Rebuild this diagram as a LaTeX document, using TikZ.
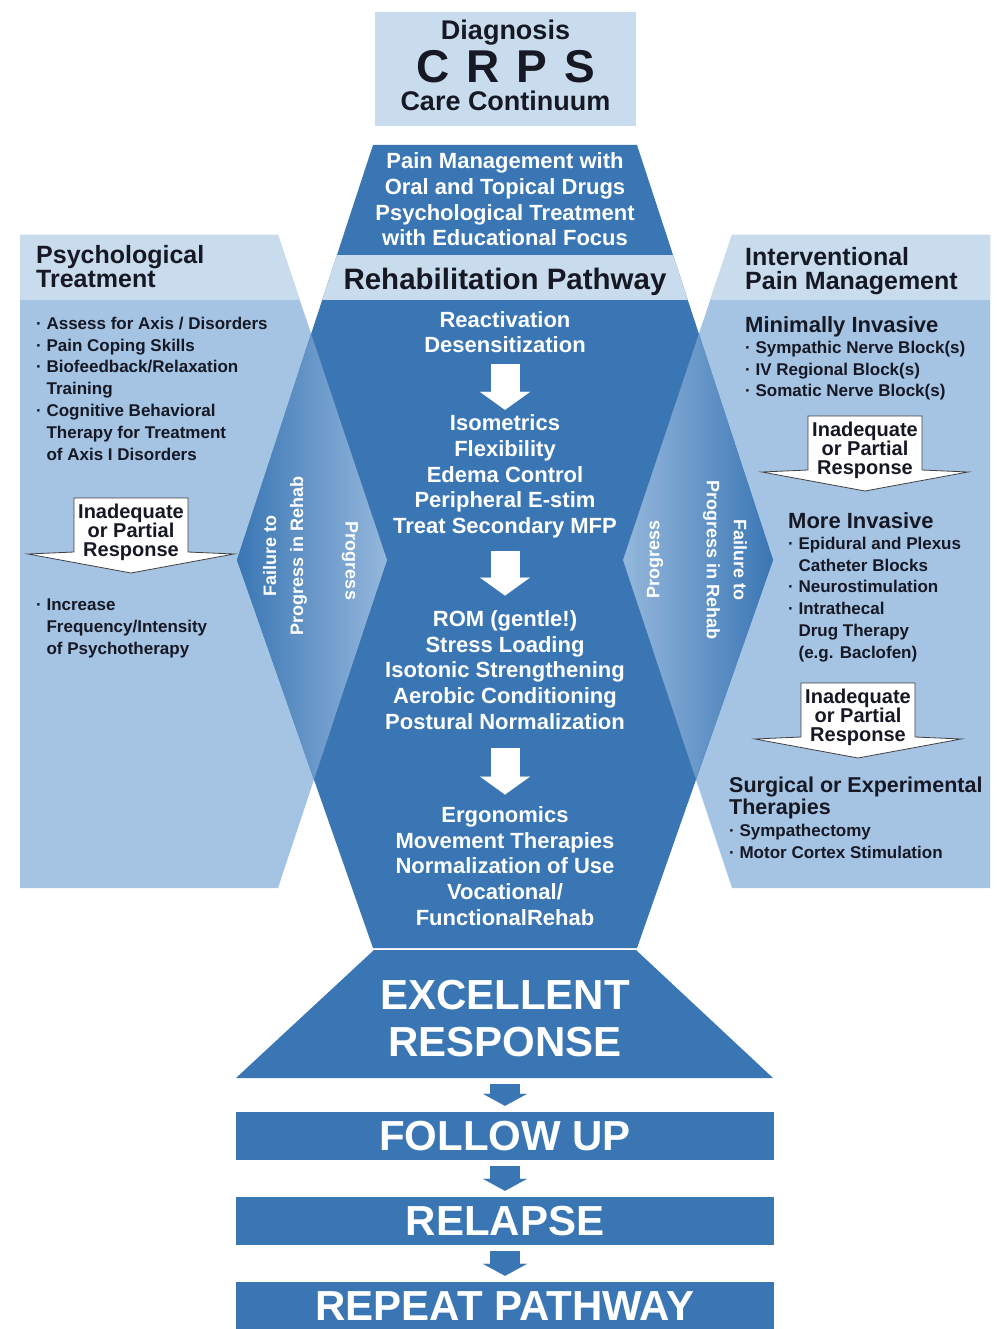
\documentclass[tikz,border=0pt]{standalone}
\usepackage{fontspec}
\setmainfont{Liberation Sans}
\usepackage{tikz}
\usetikzlibrary{arrows.meta, calc, positioning}

\definecolor{pathway}{RGB}{58,118,180}
\definecolor{panel}{RGB}{165,195,227}
\definecolor{band}{RGB}{201,220,238}
\definecolor{ink}{RGB}{22,24,36}

\newcommand{\fsize}[2]{\fontsize{#1}{#2}\selectfont}
\newcommand{\ind}{\phantom{·\ }}

\begin{document}
\begin{tikzpicture}[x=1pt, y=-1pt,
	every node/.style={inner sep=0pt, font=\bfseries},
	on dark/.style={text=white, align=center},
	on light/.style={text=ink, align=left, anchor=north west},
	heading/.style={on light, font=\bfseries\fsize{25}{24}},
	subheading/.style={on light, font=\bfseries\fsize{22}{22}},
	bullets/.style={on light, font=\bfseries\fsize{17}{21.8}},
	column/.style={on dark, font=\bfseries\fsize{22}{25.6}},
	side label/.style={on dark, font=\bfseries\fsize{18}{27}},
	white arrow/.style={white, line width=29pt, -{Triangle[width=50pt, length=18pt, line width=0.1pt]}},
	stage arrow/.style={pathway, line width=30pt, -{Triangle[width=44pt, length=12pt, line width=0.1pt]}, shorten <=6pt, shorten >=6pt},
	stage box/.style={fill=pathway, text=white, minimum width=538pt, minimum height=48pt, font=\bfseries\fsize{42}{47}},
	resp arrow/.style={fill=white, draw=black!75, line width=0.8pt},
	resp text/.style={text=ink, align=center, font=\bfseries\fsize{20}{18.5}}
]
	\def\cx{505};

	\useasboundingbox (0,0) rectangle (999,1329);
	\fill[white] (0,0) rectangle (999,1329);

	\coordinate (hex top left) at (373,145);
	\coordinate (hex top right) at (637,145);
	\coordinate (hex right) at (773,560);
	\coordinate (hex bottom right) at (637,948);
	\coordinate (hex bottom left) at (373,948);
	\coordinate (hex left) at (237,560);

	%side panels
	\fill[panel] (20,235) -- (278,235) -- (387,560) -- (278,888) -- (20,888) -- cycle;
	\fill[panel] (990,235) -- (732,235) -- (623,560) -- (732,888) -- (990,888) -- cycle;
	\fill[band] (20,235) -- (278,235) -- (299.8,300) -- (20,300) -- cycle;
	\fill[band] (990,235) -- (732,235) -- (710.2,300) -- (990,300) -- cycle;

	%rehab column
	\fill[pathway] (hex top left) -- (hex top right) -- (hex right) -- (hex bottom right) -- (hex bottom left) -- (hex left) -- cycle;
	\begin{scope}
		\clip (hex top left) -- (hex top right) -- (hex right) -- (hex bottom right) -- (hex bottom left) -- (hex left) -- cycle;
		\fill[band] (200,255) rectangle (800,300);
		\begin{scope}
			\clip (20,235) -- (278,235) -- (387,560) -- (278,888) -- (20,888) -- cycle;
			\shade[left color=pathway, right color=panel!85!pathway] (237,330) rectangle (387,785);
		\end{scope}
		\begin{scope}
			\clip (990,235) -- (732,235) -- (623,560) -- (732,888) -- (990,888) -- cycle;
			\shade[left color=panel!85!pathway, right color=pathway] (623,330) rectangle (773,785);
		\end{scope}
	\end{scope}

	%title
	\node[fill=band, minimum width=261pt, minimum height=114pt] (diagnosis box) at (505.5,69) {};
	\node[text=ink, align=center, font=\bfseries\fsize{27}{36}, anchor=north] (diagnosis) at (505.5,19.7) {Diagnosis\\[4.5pt]{\fsize{46}{36}C\hspace{17pt}R\hspace{17pt}P\hspace{17pt}S}\\[-8pt]Care Continuum};

	\node[column] (pain management) at (\cx,199.5) {Pain Management with\\Oral and Topical Drugs\\Psychological Treatment\\with Educational Focus};
	\node[text=ink, font=\bfseries\fsize{29.5}{30}, anchor=base] (rehab pathway) at (\cx,289.6) {Rehabilitation Pathway};

	\node[column] (reactivation) at (\cx,332) {Reactivation\\Desensitization};
	\node[column] (isometrics) at (\cx,476.5) {Isometrics\\Flexibility\\Edema Control\\Peripheral E-stim\\Treat Secondary MFP};
	\node[column] (rom) at (\cx,670) {ROM (gentle!)\\Stress Loading\\Isotonic Strengthening\\Aerobic Conditioning\\Postural Normalization};
	\node[column] (ergonomics) at (\cx,866) {Ergonomics\\Movement Therapies\\Normalization of Use\\Vocational/\\FunctionalRehab};

	\draw[white arrow, shorten <=11pt, shorten >=5pt] (reactivation) -- (isometrics);
	\draw[white arrow, shorten <=12.5pt, shorten >=15pt] (isometrics) -- (rom);
	\draw[white arrow, shorten <=19pt, shorten >=12pt] (rom) -- (ergonomics);

	%left panel
	\node[heading] (psych heading) at (36,245) {Psychological\\Treatment};
	\node[bullets] (psych list) at (36,316.7) {·\ Assess for Axis / Disorders\\·\ Pain Coping Skills\\·\ Biofeedback/Relaxation\\\ind Training\\·\ Cognitive Behavioral\\\ind Therapy for Treatment\\\ind of Axis I Disorders};
	\coordinate (resp left) at (131,532);
	\draw[resp arrow] ([shift={(-57,-34)}]resp left) -- ++(114,0) -- ++(0,54) -- ++(46,2) -- ++(-103,19) -- ++(-103,-19) -- ++(46,-2) -- cycle;
	\node[resp text] (inadequate left) at (resp left) {Inadequate\\or Partial\\Response};
	\node[bullets] (psych more) at (36,598.7) {·\ Increase\\\ind Frequency/Intensity\\\ind of Psychotherapy};

	%right panel
	\node[heading] (interv heading) at (745,247) {Interventional\\Pain Management};
	\node[subheading] (minimally) at (745,316) {Minimally Invasive};
	\node[bullets] (minimally list) at (745,340.7) {·\ Sympathic Nerve Block(s)\\·\ IV Regional Block(s)\\·\ Somatic Nerve Block(s)};
	\coordinate (resp right top) at (865,450);
	\draw[resp arrow] ([shift={(-57,-34)}]resp right top) -- ++(114,0) -- ++(0,54) -- ++(46,2) -- ++(-103,19) -- ++(-103,-19) -- ++(46,-2) -- cycle;
	\node[resp text] (inadequate right top) at (resp right top) {Inadequate\\or Partial\\Response};
	\node[subheading] (more invasive) at (788,512) {More Invasive};
	\node[bullets] (more list) at (788,536.7) {·\ Epidural and Plexus\\\ind Catheter Blocks\\·\ Neurostimulation\\·\ Intrathecal\\\ind Drug Therapy\\\ind (e.g. Baclofen)};
	\coordinate (resp right bottom) at (858,717);
	\draw[resp arrow] ([shift={(-57,-34)}]resp right bottom) -- ++(114,0) -- ++(0,54) -- ++(46,2) -- ++(-103,19) -- ++(-103,-19) -- ++(46,-2) -- cycle;
	\node[resp text] (inadequate right bottom) at (resp right bottom) {Inadequate\\or Partial\\Response};
	\node[subheading, font=\bfseries\fsize{21.5}{22}] (surgical) at (729,777) {Surgical or Experimental\\Therapies};
	\node[bullets] (surgical list) at (729,823.7) {·\ Sympathectomy\\·\ Motor Cortex Stimulation};

	%progress chevrons
	\node[side label, rotate=90] (fail left) at (285,556) {Failure to\\Progress in Rehab};
	\node[side label, rotate=-90] (progress left) at (350,561) {Progress};
	\node[side label, rotate=90] (progress right) at (655,559) {Progress};
	\node[side label, rotate=-90] (fail right) at (725,560) {Failure to\\Progress in Rehab};

	%outcome
	\fill[pathway] (374,950) -- (636,950) -- (773,1078) -- (236,1078) -- cycle;
	\node[on dark, font=\bfseries\fsize{42}{47}] (excellent) at (\cx,1018.5) {EXCELLENT\\RESPONSE};
	\coordinate (excellent base) at (\cx,1078);
	\node[stage box] (follow up) at (\cx,1136) {FOLLOW UP};
	\node[stage box] (relapse) at (\cx,1221) {RELAPSE};
	\node[stage box] (repeat) at (\cx,1306) {REPEAT PATHWAY};
	\draw[stage arrow] (excellent base) -- (follow up);
	\draw[stage arrow] (follow up) -- (relapse);
	\draw[stage arrow] (relapse) -- (repeat);
\end{tikzpicture}
\end{document}
